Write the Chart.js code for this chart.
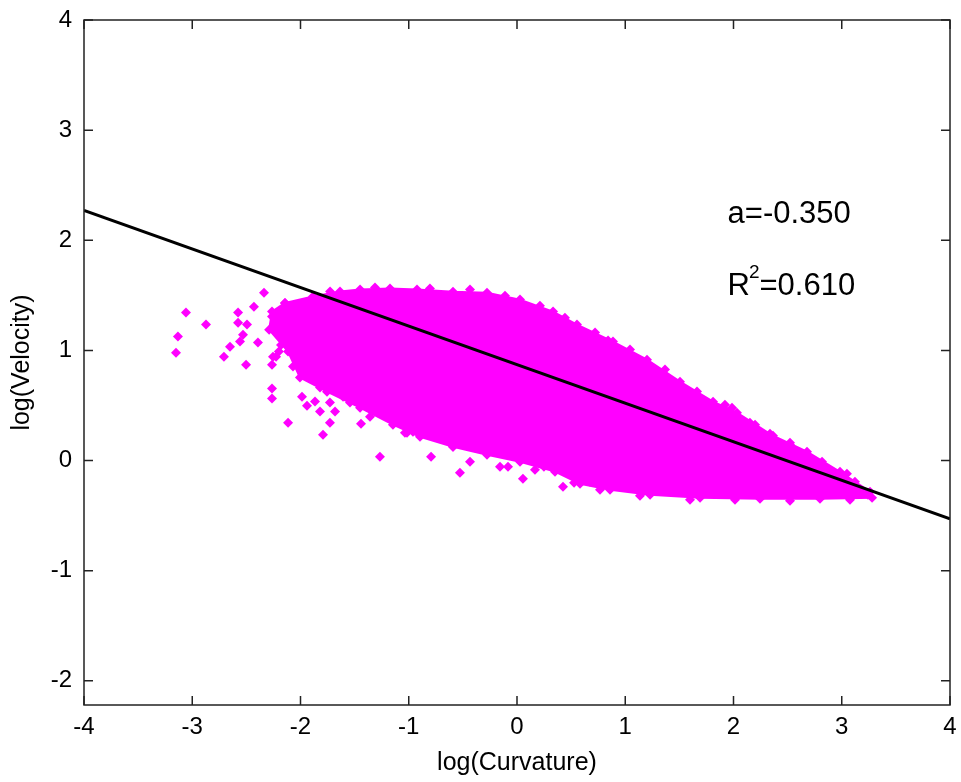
<!DOCTYPE html>
<html><head><meta charset="utf-8">
<script src="https://cdn.jsdelivr.net/npm/chart.js@4/dist/chart.umd.min.js"></script>
<style>html,body{margin:0;padding:0;background:#fff;}canvas{display:block;}</style>
</head><body>
<canvas id="c" width="961" height="782"></canvas>
<script>
// ---- data ----
const xTicks = [-4, -3, -2, -1, 0, 1, 2, 3, 4];
const yTicks = [-2, -1, 0, 1, 2, 3, 4];
const xTitle = 'log(Curvature)';
const yTitle = 'log(Velocity)';

// least-squares fit line, end points
const fitX = [-4, 4];
const fitY = [2.27, -0.53];

// outline of the dense (saturated) part of the point cloud
const cloudX = [-2.143,-1.885,-1.635,-1.450,-1.173,-0.924,-0.591,-0.277,0.028,0.333,0.554,0.887,1.201,1.506,1.811,2.032,2.365,2.679,2.984,3.261,
                3.280,2.799,2.245,1.691,1.229,0.859,0.582,0.351,0.028,-0.277,-0.591,-0.896,-1.146,-1.450,-1.755,-2.005,-2.115,-2.290,-2.263,-2.143];
const cloudY = [1.431,1.489,1.535,1.552,1.561,1.552,1.533,1.524,1.461,1.352,1.234,1.080,0.916,0.716,0.534,0.434,0.225,0.080,-0.102,-0.283,
                -0.338,-0.347,-0.347,-0.338,-0.311,-0.265,-0.211,-0.101,-0.011,0.053,0.125,0.216,0.325,0.480,0.625,0.753,0.990,1.188,1.352,1.431];

// individual points outside / on the ragged edge of the dense part
const pointX = [-2.337,-3.058,-2.873,-3.132,-3.150,-2.577,-2.430,-2.577,-2.494,-2.531,-2.559,-2.651,-2.707,-2.503,-2.393,-2.263,-2.226,-2.263,-2.263,-2.115,
                -1.986,-1.940,-1.866,-1.820,-1.728,-1.792,-1.441,-1.728,-1.681,-2.125,-2.023,-2.263,-1.875,-1.266,-0.794,-0.527,-0.157,-0.083,0.055,0.249,
                0.425,0.527,0.674,0.841,2.152,2.337,2.522,2.753,3.048,3.242,1.986,
                -0.831,-0.647,-0.591,-0.342,-0.185,0.028,0.120,0.277,0.397,-2.254,-2.069,-1.977,-1.820,-1.635,-1.478,-1.607,-1.543,-1.358,-1.201,-1.016,-0.961,-1.081,
                -1.035,-0.868,-0.249,-0.176,-0.434,0.166,0.767,1.136,1.598,2.014,2.522,3.076,-2.180,-2.200,
                -1.727,-1.312,-0.804,-0.434,-0.111,0.212,0.443,0.721,1.044,1.367,1.663,1.921,2.199,2.522,2.818,3.122];
const pointY = [1.524,1.343,1.234,1.125,0.979,1.343,1.397,1.252,1.234,1.143,1.080,1.034,0.943,0.870,1.071,0.870,0.943,0.653,0.562,0.343,
                0.580,0.498,0.535,0.444,0.343,0.234,0.334,0.526,0.444,1.343,1.325,1.307,1.352,0.035,0.035,-0.111,-0.056,-0.056,-0.165,-0.056,
                -0.238,-0.202,-0.193,1.089,0.343,0.243,0.144,-0.011,-0.120,-0.311,0.480,
                0.307,0.189,0.125,0.162,0.125,0.071,0.125,0.125,0.071,0.943,0.853,0.889,0.662,0.826,0.734,0.580,0.526,0.398,0.398,0.252,0.261,0.343,
                0.253,0.280,0.098,0.098,-0.011,-0.084,-0.265,-0.320,-0.356,-0.356,-0.365,-0.356,1.050,0.990,
                1.535,1.571,1.561,1.552,1.497,1.406,1.297,1.162,1.007,0.826,0.626,0.507,0.325,0.162,-0.011,-0.192];

const slopeLabel = 'a=-0.350';
const r2Label = '0.610';

// ---- chart ----
const MAGENTA = '#FF00FF';
const FONT = "'Liberation Sans', Arial, Helvetica, sans-serif";
const toXY = (xs, ys) => xs.map((x, i) => ({x: x, y: ys[i]}));

const frameAndText = {
  id: 'frameAndText',
  afterDatasetsDraw(chart) {
    const {ctx, chartArea: a, scales: {x, y}} = chart;
    ctx.save();
    // annotation text
    ctx.fillStyle = '#000';
    ctx.textBaseline = 'alphabetic';
    ctx.textAlign = 'left';
    ctx.font = '31px ' + FONT;
    const tx = x.getPixelForValue(1.945);
    ctx.fillText(slopeLabel, tx, y.getPixelForValue(2.16));
    const by = y.getPixelForValue(1.506);
    ctx.fillText('R', tx, by);
    const rw = ctx.measureText('R').width;
    ctx.font = '19px ' + FONT;
    ctx.fillText('2', tx + rw - 1, by - 17);
    const sw = ctx.measureText('2').width;
    ctx.font = '31px ' + FONT;
    ctx.fillText('=' + r2Label, tx + rw - 1 + sw, by);
    // frame
    ctx.strokeStyle = '#222';
    ctx.lineWidth = 1.5;
    ctx.strokeRect(a.left, a.top, a.right - a.left, a.bottom - a.top);
    // inward ticks on all four sides
    const tl = 9;
    ctx.beginPath();
    xTicks.forEach(v => {
      const px = x.getPixelForValue(v);
      ctx.moveTo(px, a.bottom); ctx.lineTo(px, a.bottom - tl);
      ctx.moveTo(px, a.top); ctx.lineTo(px, a.top + tl);
    });
    yTicks.forEach(v => {
      const py = y.getPixelForValue(v);
      ctx.moveTo(a.left, py); ctx.lineTo(a.left + tl, py);
      ctx.moveTo(a.right, py); ctx.lineTo(a.right - tl, py);
    });
    ctx.stroke();
    ctx.restore();
  }
};

new Chart(document.getElementById('c'), {
  type: 'scatter',
  data: {
    datasets: [
      {
        type: 'line',
        label: 'fit',
        data: toXY(fitX, fitY),
        borderColor: '#000',
        borderWidth: 3,
        pointRadius: 0,
        fill: false,
        order: 0
      },
      {
        label: 'points',
        data: toXY(pointX, pointY),
        pointStyle: 'rectRot',
        pointRadius: 5,
        backgroundColor: MAGENTA,
        borderColor: MAGENTA,
        borderWidth: 0,
        order: 1
      },
      {
        type: 'line',
        label: 'cloud',
        data: toXY(cloudX, cloudY),
        borderColor: MAGENTA,
        backgroundColor: MAGENTA,
        borderWidth: 2,
        fill: 'shape',
        tension: 0,
        pointStyle: 'rectRot',
        pointRadius: 5,
        pointBackgroundColor: MAGENTA,
        pointBorderWidth: 0,
        order: 2
      }
    ]
  },
  options: {
    responsive: false,
    animation: false,
    devicePixelRatio: 1,
    layout: {padding: {top: 20, right: 11, left: 0, bottom: 0}},
    plugins: {legend: {display: false}, tooltip: {enabled: false}},
    scales: {
      x: {
        type: 'linear', min: -4, max: 4,
        afterBuildTicks: s => { s.ticks = xTicks.map(v => ({value: v})); },
        afterFit: s => { s.height = 77; s.paddingLeft = 0; s.paddingRight = 0; },
        grid: {display: false, drawTicks: false},
        border: {display: false},
        ticks: {color: '#000', font: {family: FONT, size: 24}, padding: 8, maxRotation: 0, autoSkip: false},
        title: {display: true, text: xTitle, color: '#000', font: {family: FONT, size: 25}, padding: {top: 0, bottom: 4}}
      },
      y: {
        type: 'linear', min: -2.22, max: 4,
        afterBuildTicks: s => { s.ticks = yTicks.map(v => ({value: v})); },
        afterFit: s => { s.width = 84; s.paddingTop = 0; s.paddingBottom = 0; },
        grid: {display: false, drawTicks: false},
        border: {display: false},
        ticks: {color: '#000', font: {family: FONT, size: 24}, padding: 12, autoSkip: false},
        title: {display: true, text: yTitle, color: '#000', font: {family: FONT, size: 25}, padding: {top: 7, bottom: 0}}
      }
    }
  },
  plugins: [frameAndText]
});
</script>
</body></html>
